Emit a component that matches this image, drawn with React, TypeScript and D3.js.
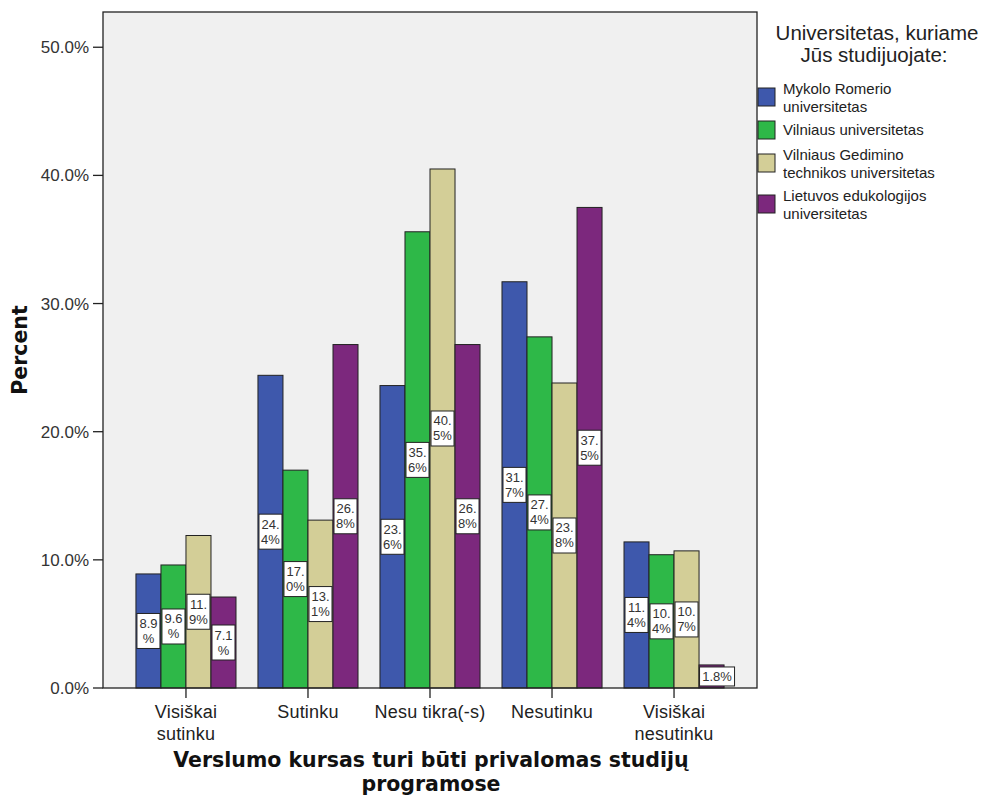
import React from "react";
import * as d3 from "d3";

const categories = ["Visiškai sutinku", "Sutinku", "Nesu tikra(-s)", "Nesutinku", "Visiškai nesutinku"];
const categoryLines = [["Visiškai", "sutinku"], ["Sutinku"], ["Nesu tikra(-s)"], ["Nesutinku"], ["Visiškai", "nesutinku"]];
const seriesNames = [
  "Mykolo Romerio universitetas",
  "Vilniaus universitetas",
  "Vilniaus Gedimino technikos universitetas",
  "Lietuvos edukologijos universitetas",
];
const legendLines = [
  ["Mykolo Romerio", "universitetas"],
  ["Vilniaus universitetas"],
  ["Vilniaus Gedimino", "technikos universitetas"],
  ["Lietuvos edukologijos", "universitetas"],
];
const mykoloRomerio = [8.9, 24.4, 23.6, 31.7, 11.4];
const vilniaus = [9.6, 17.0, 35.6, 27.4, 10.4];
const vgtu = [11.9, 13.1, 40.5, 23.8, 10.7];
const edukologijos = [7.1, 26.8, 26.8, 37.5, 1.8];
const yTicks = [0, 10, 20, 30, 40, 50];

const colors = ["#3E58AC", "#2EB848", "#D3CE97", "#7C287D"];

export default function App() {
  const W = 987, H = 798;
  const left = 103, right = 757, top = 12, bottom = 688;
  const series = [mykoloRomerio, vilniaus, vgtu, edukologijos];

  const x0 = d3.scaleBand<string>().domain(categories).range([left, right]).paddingInner(0.18).paddingOuter(0.27);
  const x1 = d3.scaleBand<number>().domain([0, 1, 2, 3]).range([0, x0.bandwidth()]);
  const y = d3.scaleLinear().domain([0, 52.75]).range([bottom, top]);
  const fmt = d3.format(".1f");
  const sans = "'Liberation Sans', Arial, sans-serif";
  const bold = "'DejaVu Sans', sans-serif";

  const bars: React.ReactNode[] = [];
  const labels: React.ReactNode[] = [];
  categories.forEach((c, ci) => {
    series.forEach((s, si) => {
      const v = s[ci];
      const bx = (x0(c) as number) + (x1(si) as number);
      const bw = x1.bandwidth();
      const by = y(v);
      bars.push(
        <rect key={`b${ci}-${si}`} x={bx} y={by} width={bw} height={bottom - by}
          fill={colors[si]} stroke="#222" strokeWidth={1} />
      );
      const txt = fmt(v) + "%";
      const mid = (by + bottom) / 2;
      if (bottom - by < 36) {
        const w = 35, h = 19;
        labels.push(
          <g key={`l${ci}-${si}`}>
            <rect x={bx + 0.5} y={mid - h / 2} width={w} height={h} fill="#fff" stroke="#222" strokeWidth={1} />
            <text x={bx + 0.5 + w / 2} y={mid + 5} textAnchor="middle" fontSize={13} fontFamily={sans} fill="#333">{txt}</text>
          </g>
        );
      } else {
        const w = bw - 2, h = 35;
        const l1 = txt.slice(0, 3), l2 = txt.slice(3);
        labels.push(
          <g key={`l${ci}-${si}`}>
            <rect x={bx + 1} y={mid - h / 2} width={w} height={h} fill="#fff" stroke="#222" strokeWidth={1} />
            <text x={bx + bw / 2} y={mid - 3} textAnchor="middle" fontSize={13} fontFamily={sans} fill="#333">{l1}</text>
            <text x={bx + bw / 2} y={mid + 12} textAnchor="middle" fontSize={13} fontFamily={sans} fill="#333">{l2}</text>
          </g>
        );
      }
    });
  });

  return (
    <svg width={W} height={H} style={{ position: "absolute", left: 0, top: 0, background: "#fff" }}>
      <rect x={left} y={top} width={right - left} height={bottom - top} fill="#F0F0F0" />
      {bars}
      {labels}
      <rect x={left} y={top} width={right - left} height={bottom - top} fill="none" stroke="#222" strokeWidth={1.3} />
      {yTicks.map((t) => (
        <g key={`yt${t}`}>
          <line x1={left - 10} x2={left} y1={y(t)} y2={y(t)} stroke="#222" strokeWidth={1.3} />
          <text x={left - 14} y={y(t) + 6} textAnchor="end" fontSize={17} fontFamily={sans} fill="#333">{fmt(t) + "%"}</text>
        </g>
      ))}
      {categories.map((c, ci) => {
        const cx = (x0(c) as number) + x0.bandwidth() / 2;
        return (
          <g key={`xt${ci}`}>
            <line x1={cx} x2={cx} y1={bottom} y2={bottom + 10} stroke="#222" strokeWidth={1.3} />
            {categoryLines[ci].map((ln, li) => (
              <text key={li} x={cx} y={bottom + 30 + li * 22} textAnchor="middle" fontSize={18} letterSpacing={0.2} fontFamily={sans} fill="#222">{ln}</text>
            ))}
          </g>
        );
      })}
      <text x={431} y={767} textAnchor="middle" fontSize={20.5} fontWeight="bold" fontFamily={bold} fill="#111">Verslumo kursas turi būti privalomas studijų</text>
      <text x={431} y={791} textAnchor="middle" fontSize={20.5} fontWeight="bold" fontFamily={bold} fill="#111">programose</text>
      <text transform={`translate(27,350) rotate(-90)`} textAnchor="middle" fontSize={20.5} fontWeight="bold" fontFamily={bold} fill="#111">Percent</text>
      <text x={877} y={40} textAnchor="middle" fontSize={20.5} fontFamily={sans} fill="#222">Universitetas, kuriame</text>
      <text x={874} y={62} textAnchor="middle" fontSize={20.5} fontFamily={sans} fill="#222">Jūs studijuojate:</text>
      {seriesNames.map((s, si) => {
        const sy = [88, 121, 154, 195][si];
        return (
          <g key={`lg${si}`}>
            <rect x={758} y={sy} width={17} height={18} fill={colors[si]} stroke="#222" strokeWidth={1} />
            {legendLines[si].map((ln, li) => (
              <text key={li} x={783} y={sy + 6 + li * 18 + (legendLines[si].length === 1 ? 8 : 0)} fontSize={15} fontFamily={sans} fill="#222">{ln}</text>
            ))}
          </g>
        );
      })}
    </svg>
  );
}
